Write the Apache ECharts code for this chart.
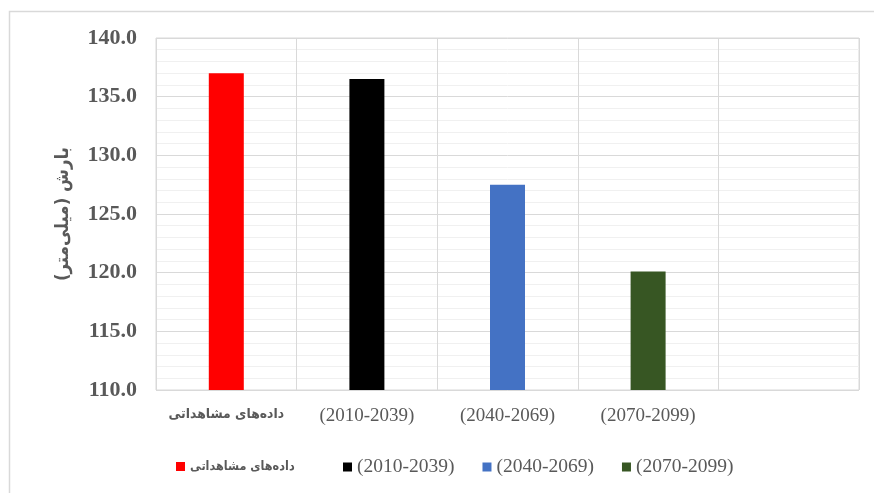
<!DOCTYPE html>
<html>
<head>
<meta charset="utf-8">
<script src="https://cdn.jsdelivr.net/npm/echarts@6/dist/echarts.min.js"></script>
<style>
  html, body { margin: 0; padding: 0; background: #fff; }
  #chart { width: 874px; height: 493px; }
</style>
</head>
<body>
<div id="chart"></div>
<script>
/* chart data */
let categories = ["داده‌های مشاهداتی", "(2010-2039)", "(2040-2069)", "(2070-2099)", ""];
let seriesNames = ["داده‌های مشاهداتی", "(2010-2039)", "(2040-2069)", "(2070-2099)"];
let seriesValues = [137.0, 136.5, 127.5, 120.1];
let seriesColors = ["#ff0000", "#000000", "#4472c4", "#375623"];

let textColor = "#595959";
let fontFamily = "'Liberation Serif', serif";
let arabicFont = "'DejaVu Sans Condensed', 'DejaVu Sans', sans-serif";

/* wrap persian text so it gets its own font */
function arLabel(text) {
  return /[\u0600-\u06FF]/.test(text) ? "{ar|" + text + "}" : text;
}

/* one series per period, each only in its own category */
let series = seriesNames.map(function (name, i) {
  let data = categories.map(function (c, j) {
    return j === i ? seriesValues[i] : "-";
  });
  return {
    name: name,
    type: "bar",
    data: data,
    barWidth: 35,
    barGap: "-100%",
    itemStyle: { color: seriesColors[i] },
  };
});

/* legend style shared by both legend parts */
function legendPart(left, top, names) {
  return {
    left: left,
    top: top,
    padding: 0,
    itemWidth: 9,
    itemHeight: 9,
    itemGap: 28,
    icon: "rect",
    formatter: arLabel,
    textStyle: {
      color: textColor,
      fontSize: 19.5,
      fontFamily: fontFamily,
      rich: { ar: { color: textColor, fontSize: 12.5, fontWeight: "bold", fontFamily: arabicFont } },
    },
    data: names,
  };
}

let myChart = echarts.init(document.getElementById("chart"));
let option = {
  animation: false,
  graphic: [
    {
      type: "rect",
      shape: { x: 9.5, y: 11.5, width: 900, height: 600 },
      style: { fill: "none", stroke: "#d9d9d9", lineWidth: 1.5 },
      silent: true,
    },
  ],
  grid: { left: 156, right: 15, top: 38, bottom: 103, show: true, borderColor: "#d9d9d9", borderWidth: 1 },
  legend: [legendPart(176, 460, seriesNames.slice(0, 1)), legendPart(343, 457, seriesNames.slice(1))],
  xAxis: {
    type: "category",
    data: categories,
    axisLine: { show: false },
    axisTick: { show: false },
    axisLabel: {
      interval: 0,
      color: textColor,
      fontSize: 19,
      fontFamily: fontFamily,
      margin: 17,
      formatter: arLabel,
      rich: { ar: { color: textColor, fontSize: 13.8, fontWeight: "bold", fontFamily: arabicFont } },
    },
    splitLine: { show: true, interval: 0, lineStyle: { color: "#d9d9d9", width: 1 } },
  },
  yAxis: {
    type: "value",
    min: 110,
    max: 140,
    interval: 5,
    name: "بارش (میلی‌متر)",
    nameLocation: "middle",
    nameGap: 83,
    nameTextStyle: { color: textColor, fontSize: 18.5, fontWeight: "bold", fontFamily: arabicFont },
    axisLine: { show: false },
    axisTick: { show: false },
    axisLabel: {
      color: textColor,
      fontSize: 22,
      fontWeight: "bold",
      fontFamily: fontFamily,
      margin: 19,
      formatter: function (v) { return v.toFixed(1); },
    },
    splitLine: { lineStyle: { color: "#d9d9d9", width: 1 } },
    minorTick: { show: false, splitNumber: 5 },
    minorSplitLine: { show: true, lineStyle: { color: "#f0f0f0", width: 1 } },
  },
  series: series,
};
myChart.setOption(option);
</script>
</body>
</html>
